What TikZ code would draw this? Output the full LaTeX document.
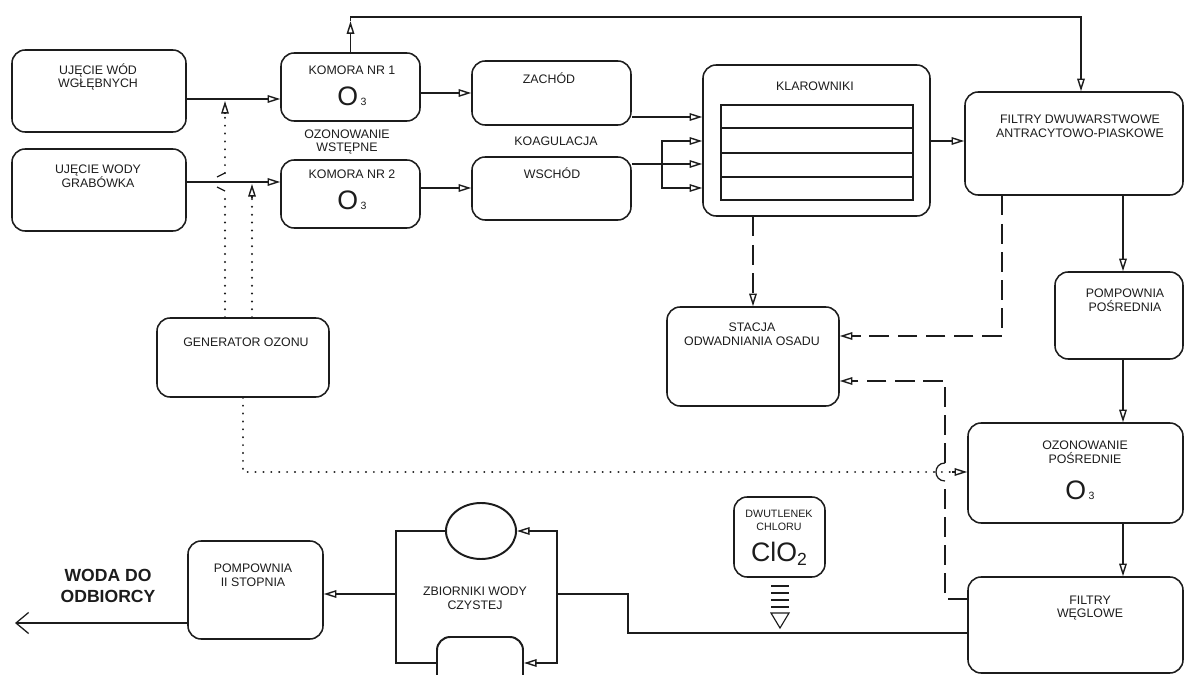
\documentclass[tikz,border=0pt]{standalone}
\usepackage{fontspec}
\setmainfont{Liberation Sans}
\usepackage{xcolor}
\usepackage{tikz}
\usetikzlibrary{arrows.meta,positioning,fit,calc,shapes.geometric}
\definecolor{inkblack}{RGB}{28, 28, 28}
\newcommand{\ozn}{{\fontsize{19}{20}\selectfont O}\kern1.8pt{\fontsize{7.5}{8}\selectfont 3}}

\begin{document}
\begin{tikzpicture}[x=0.025cm, y=-0.025cm, color=inkblack]
    \tikzstyle{wnode} = [draw=inkblack, line width=1.1pt, rounded corners=0.33cm, inner sep=0pt]
    \tikzstyle{wtext} = [font=\fontsize{8.8}{9.8}\selectfont, align=center, inner sep=0pt]
    \tikzstyle{wtip} = [-{Triangle[open, length=9pt, width=5.4pt, line width=1pt]}]
    \tikzstyle{warrow} = [line width=0.9pt, wtip]
    \tikzstyle{wpipe} = [line width=0.9pt]
    \tikzstyle{wframe} = [line width=1.4pt]
    \tikzstyle{wdots} = [line width=1.6pt, dash pattern=on 0.01pt off 5.6pt, line cap=round]
    \tikzstyle{wdash} = [line width=1pt, dash pattern=on 14pt off 6pt]

    \useasboundingbox (0,0) rectangle (1186,675);

    \node[wnode, fit={(12,50) (186,132)}] (uw1) {};
    \node[wnode, fit={(12,149) (186,231)}] (uw2) {};
    \node[wnode, fit={(281,53) (420,121)}] (kom1) {};
    \node[wnode, fit={(281,160) (420,228)}] (kom2) {};
    \node[wnode, fit={(472,61) (631,125)}] (zach) {};
    \node[wnode, fit={(472,157) (631,220)}] (wsch) {};
    \node[wnode, fit={(703,65) (930,216)}] (klar) {};
    \node[wnode, fit={(965,92) (1183,195)}] (filtr) {};
    \node[wnode, fit={(1055,272) (1183,359)}] (pomp) {};
    \node[wnode, fit={(667,307) (839,406)}] (stacja) {};
    \node[wnode, fit={(157,318) (329,397)}] (gen) {};
    \node[wnode, fit={(968,423) (1183,523)}] (ozon) {};
    \node[wnode, fit={(968,577) (1183,673)}] (filtw) {};
    \node[wnode, fit={(734,497) (825,577)}] (clo) {};
    \node[wnode, fit={(188,541) (323,639)}] (pomp2) {};
    \node[wnode, line width=1.4pt, fit={(437,637) (523,689)}] (zb2) {};
    \node[draw=inkblack, line width=1.4pt, ellipse, inner sep=0pt, minimum width=1.75cm, minimum height=1.4cm] (zb1) at (481,531) {};

    \draw[line width=1.1pt] (721,105) rectangle (913,200);
    \foreach \y in {128,153,177}
        \draw[line width=1.1pt] (721,\y) -- (913,\y);

    \node[wtext] (t_uw1) at (98,77) {UJĘCIE WÓD\\WGŁĘBNYCH};
    \node[wtext] (t_uw2) at (98,176) {UJĘCIE WODY\\GRABÓWKA};
    \node[wtext] (t_kom1) at (352,70) {KOMORA NR 1};
    \node (o_kom1) at (352,96) {\ozn};
    \node[wtext] (t_kom2) at (352,174) {KOMORA NR 2};
    \node (o_kom2) at (352,200) {\ozn};
    \node[wtext] (t_wst) at (347,142) {OZONOWANIE\\WSTĘPNE};
    \node[wtext] (t_zach) at (549,78) {ZACHÓD};
    \node[wtext] (t_wsch) at (552,173) {WSCHÓD};
    \node[wtext] (t_koag) at (556,141) {KOAGULACJA};
    \node[wtext] (t_klar) at (815,86) {KLAROWNIKI};
    \node[wtext] (t_filtr) at (1080,126) {FILTRY DWUWARSTWOWE\\ANTRACYTOWO-PIASKOWE};
    \node[wtext] (t_pomp) at (1125,300) {POMPOWNIA\\POŚREDNIA};
    \node[wtext] (t_stacja) at (752,334) {STACJA\\ODWADNIANIA OSADU};
    \node[wtext] (t_gen) at (246,342) {GENERATOR OZONU};
    \node[wtext] (t_ozon) at (1085,452) {OZONOWANIE\\POŚREDNIE};
    \node (o_ozon) at (1080,490) {\ozn};
    \node[wtext] (t_filtw) at (1090,608) {FILTRY\\WĘGLOWE};
    \node[wtext, font=\fontsize{7.6}{9.2}\selectfont] (t_clo) at (779,520) {DWUTLENEK\\CHLORU};
    \node (o_clo) at (779,554) {{\fontsize{19}{20}\selectfont ClO}\raisebox{-3pt}{\fontsize{12.5}{13}\selectfont 2}};
    \node[wtext] (t_pomp2) at (253,575) {POMPOWNIA\\II STOPNIA};
    \node[wtext] (t_zb) at (475,598) {ZBIORNIKI WODY\\CZYSTEJ};
    \node[wtext, font=\bfseries\fontsize{12.5}{14.5}\selectfont] (t_woda) at (108,586) {WODA DO\\ODBIORCY};

    \draw[warrow] (uw1.east |- 0,99) -- (kom1.west |- 0,99);
    \draw[warrow] (uw2.east |- 0,182) -- (kom2.west |- 0,182);
    \draw[warrow] (kom1.east |- 0,93) -- (zach.west |- 0,93);
    \draw[warrow] (kom2.east |- 0,188) -- (wsch.west |- 0,188);
    \draw[warrow] (zach.east |- 0,117) -- (klar.west |- 0,117);
    \draw[warrow] (wsch.east |- 0,164) -- (klar.west |- 0,164);
    \coordinate (rozg) at (662,164);
    \draw[warrow] (rozg) |- (klar.west |- 0,141);
    \draw[warrow] (rozg) |- (klar.west |- 0,188);
    \draw[warrow] (klar.east |- 0,141) -- (filtr.west |- 0,141);

    \draw[warrow, line width=1.3pt] (kom1.north) -- ++(0,-31) coordinate (gora);
    \draw[warrow, line width=1.3pt] (gora) -- ++(0,-4) -| ([xshift=0.175cm]filtr.north);

    \coordinate (most1) at (225,173);
    \coordinate (most2) at (225,191);
    \draw[wdots] ([xshift=-0.45cm]gen.north) -- (225,196);
    \draw[wpipe] (217,187) -- (most2);
    \draw[wpipe] (217,177) -- (most1);
    \draw[wdots] (most1) -- (225,114);
    \draw[warrow] (225,114) -- (225,101);
    \draw[wdots] ([xshift=0.225cm]gen.north) -- (252,198);
    \draw[warrow] (252,198) -- (252,184);
    \draw[wdots] (gen.south) |- (952,472);
    \draw[warrow] (952,472) -- (ozon.west |- 0,472);

    \draw[wdash, wtip] (stacja.north |- klar.south) -- (stacja.north);
    \draw[wdash, wtip] (filtr.south -| 1002,0) |- (stacja.east |- 0,336);
    \draw[wdash] (filtw.west |- 0,599) -| (945,481);
    \draw[wpipe] (945,481) .. controls (933,481) and (933,463) .. (945,463);
    \draw[wdash, wtip] (945,463) |- (stacja.east |- 0,381);

    \draw[warrow] ([xshift=0.1cm]pomp.north |- filtr.south) -- ([xshift=0.1cm]pomp.north);
    \draw[warrow] ([xshift=0.1cm]pomp.south) -- ([xshift=0.1cm]pomp.south |- ozon.north);
    \draw[warrow] ([xshift=0.1cm]pomp.south |- ozon.south) -- ([xshift=0.1cm]pomp.south |- filtw.north);

    \coordinate (zR) at (557,594);
    \coordinate (zL) at (396,594);
    \draw[wpipe] (filtw.west |- 0,633) -| (628,594) -- (zR);
    \draw[wframe, wtip] (zR) |- (zb1.east);
    \draw[wframe, wtip] (zR) |- (zb2.east);
    \draw[wframe] (zb1.west) -| (zL) |- (zb2.west);
    \draw[warrow] (zL) -- (pomp2.east |- zL);
    \coordinate (wyjscie) at (15,623);
    \draw[wpipe, -{Straight Barb[length=9pt, width=15pt]}] (pomp2.west |- wyjscie) -- (wyjscie);

    \foreach \y in {586,593,600,607}
        \draw[line width=0.8pt] (771,\y) -- (789,\y);
    \draw[line width=0.8pt] (771,613) -- (789,613) -- (780,628) -- cycle;
\end{tikzpicture}
\end{document}
